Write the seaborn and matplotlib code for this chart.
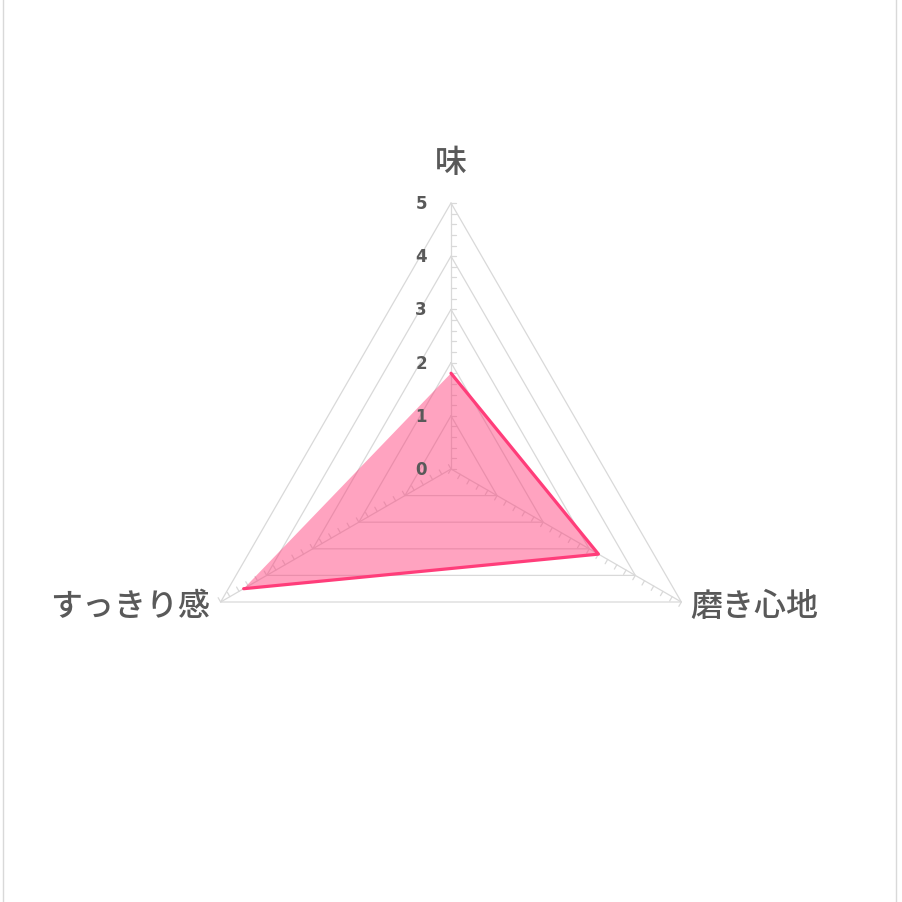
import numpy as np
import pandas as pd
import matplotlib
matplotlib.use("Agg")
import matplotlib.pyplot as plt
from matplotlib.lines import Line2D
import seaborn as sns

# data
categories = ["味", "磨き心地", "すっきり感"]
scores = [1.8, 3.2, 4.5]
levels = [0, 1, 2, 3, 4, 5]

sns.set_theme(style="white")
plt.rcParams["font.family"] = ["Noto Sans CJK JP", "DejaVu Sans"]

grid_col = "#d9d9d9"
line_col = "#ff3d7a"
text_col = "#595959"

# angles: start on top, go clockwise
angles = np.deg2rad(90 - np.arange(len(categories)) * 360 / len(categories))

fig = plt.figure(figsize=(9.02, 9.03), dpi=100)
ax = fig.add_axes([0, 0, 1, 1])
ax.set_axis_off()
scale = 53.2  # px per unit
cx, cy = 451, 470
ax.set_xlim(-cx / scale, (902 - cx) / scale)
ax.set_ylim(-(903 - cy) / scale, cy / scale)

# grid polygons
for lv in levels[1:]:
    gx = np.append(lv * np.cos(angles), lv * np.cos(angles[0]))
    gy = np.append(lv * np.sin(angles), lv * np.sin(angles[0]))
    ax.plot(gx, gy, color=grid_col, lw=0.9, zorder=1)

# spokes with minor ticks
rmax = levels[-1]
for a in angles:
    ax.plot([0, rmax * np.cos(a)], [0, rmax * np.sin(a)], color=grid_col, lw=0.9, zorder=1)
    perp = np.array([np.sin(a), -np.cos(a)])  # rotate clockwise
    tl = 5 / scale
    for r in np.arange(0, rmax + 0.01, 0.2):
        px, py = r * np.cos(a), r * np.sin(a)
        ax.plot([px, px + perp[0] * tl], [py, py + perp[1] * tl], color=grid_col, lw=0.9, zorder=1)

# series
xs = np.array(scores) * np.cos(angles)
ys = np.array(scores) * np.sin(angles)
df = pd.DataFrame({"x": np.append(xs, xs[0]), "y": np.append(ys, ys[0])})
ax.fill(df["x"], df["y"], color=line_col, alpha=0.47, lw=0, zorder=2)
sns.lineplot(data=df, x="x", y="y", sort=False, color=line_col, lw=2.3, ax=ax, zorder=3)
ax.set_axis_off()

# value labels
for lv in levels:
    ax.text(-24 / scale, lv, str(lv), ha="right", va="center", fontsize=12,
            fontweight="bold", color=text_col, family=["DejaVu Sans"], zorder=4)

# category labels
lab_kw = dict(fontsize=23, color=text_col, fontweight="medium", va="center")
ax.text(0, (cy - 163) / scale, categories[0], ha="center", **lab_kw)
ax.text((690 - cx) / scale, (cy - 607) / scale, categories[1], ha="left", **lab_kw)
ax.text((210 - cx) / scale, (cy - 607) / scale, categories[2], ha="right", **lab_kw)

# frame lines at the sides
for xp in [2.5 / 902, 895.5 / 902]:
    fig.add_artist(Line2D([xp, xp], [0, 1], transform=fig.transFigure, color="#d9d9d9", lw=1))

fig.savefig("out.png", dpi=100, facecolor="white")
